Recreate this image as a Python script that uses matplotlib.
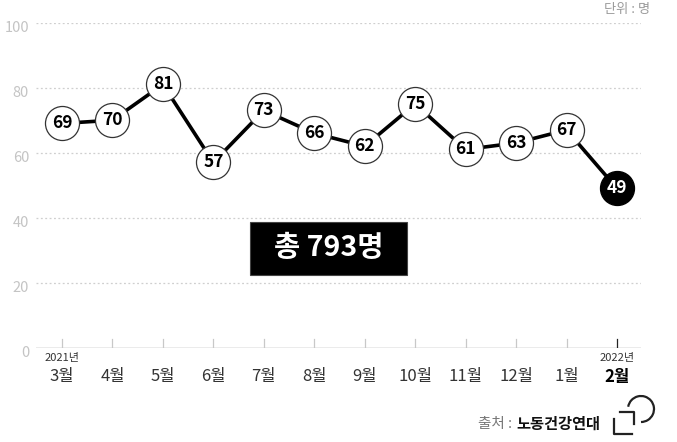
import matplotlib
matplotlib.use("Agg")
import matplotlib.pyplot as plt
from matplotlib.patches import Rectangle, Arc
from matplotlib.lines import Line2D

plt.rcParams['font.family'] = ['Noto Sans CJK KR', 'DejaVu Sans']

# data
months = ['3월', '4월', '5월', '6월', '7월', '8월', '9월', '10월', '11월', '12월', '1월', '2월']
deaths = [69, 70, 81, 57, 73, 66, 62, 75, 61, 63, 67, 49]
yticks = [0, 20, 40, 60, 80, 100]
total_label = '총 793명'

W, H = 677, 442
fig = plt.figure(figsize=(W / 100, H / 100), dpi=100)

def fx(x):
    return x / W

def fy(y):
    return 1 - y / H

# axes placed so that x=0..11 -> px 62..617, y=0..100 -> px 347.7..22.7
left_px, right_px = 36, 641
bot_px, top_px = 347.7, 22.7
ax = fig.add_axes([fx(left_px), fy(bot_px), (right_px - left_px) / W, (bot_px - top_px) / H])
step = (617 - 62) / 11
ax.set_xlim(-(62 - left_px) / step, 11 + (right_px - 617) / step)
ax.set_ylim(0, 100)
for s in ax.spines.values():
    s.set_visible(False)
ax.set_xticks([])
ax.set_yticks([])

# grid
for v in yticks[1:]:
    ax.axhline(v, color='#cfcfcf', lw=0.9, ls=(0, (1.5, 2)), zorder=0)
ax.axhline(0, color='#9a9a9a', lw=1.0, zorder=1)
for i in range(len(months)):
    c = '#222222' if i == len(months) - 1 else '#c8c8c8'
    ax.plot([i, i], [0, 2.6], color=c, lw=0.9, zorder=1)

# y tick labels (sit just below their gridline)
for v in yticks:
    fig.text(fx(29), fy(bot_px - v * 3.25 + 5), str(v), ha='right', va='center',
             fontsize=10.5, color='#c4c4c4')

x = list(range(len(months)))
ax.plot(x, deaths, color='black', lw=2.6, zorder=2, clip_on=False)
for i, v in enumerate(deaths):
    last = i == len(deaths) - 1
    ax.plot(i, v, 'o', ms=24.5, mfc='black' if last else 'white', mec='black' if last else '#333333',
            mew=0.9, zorder=3, clip_on=False)
    ax.text(i, v, str(v), ha='center', va='center', fontsize=12.5, fontweight='bold',
            color='white' if last else 'black', zorder=4)

# month labels
for i, m in enumerate(months):
    last = i == len(months) - 1
    fig.text(fx(62 + i * step), fy(377), m, ha='center', va='center', fontsize=12,
             fontweight='bold' if last else 'normal', color='black' if last else '#333333')
fig.text(fx(62), fy(358), '2021년', ha='center', va='center', fontsize=8, color='#333333')
fig.text(fx(617), fy(358), '2022년', ha='center', va='center', fontsize=8, color='#333333')

# total box
fig.patches.append(Rectangle((fx(250), fy(275)), (407 - 250) / W, (275 - 222) / H,
                             transform=fig.transFigure, facecolor='black', edgecolor='#444444', lw=0.8))
fig.text(fx(328.5), fy(248), total_label, ha='center', va='center', fontsize=20.5,
         fontweight='bold', color='white')

# unit
fig.text(fx(650), fy(10), '단위 : 명', ha='right', va='center', fontsize=9.5, color='#9a9a9a')

# source
fig.text(fx(512), fy(424), '출처 :', ha='right', va='center', fontsize=10.5, color='#777777')
fig.text(fx(516), fy(424), '노동건강연대', ha='left', va='center', fontsize=11,
         fontweight='bold', color='#111111')

# logo
lc = '#222222'
fig.add_artist(Line2D([fx(614), fx(614), fx(632)], [fy(419), fy(434), fy(434)],
                      transform=fig.transFigure, color=lc, lw=1.6))
fig.add_artist(Line2D([fx(620), fx(634), fx(634)], [fy(412), fy(412), fy(424)],
                      transform=fig.transFigure, color=lc, lw=1.6))
fig.add_artist(Arc((fx(641), fy(409)), 26 / W, 26 / H, theta1=-90, theta2=165,
                   transform=fig.transFigure, color=lc, lw=1.6))

fig.savefig('out.png', dpi=100)
